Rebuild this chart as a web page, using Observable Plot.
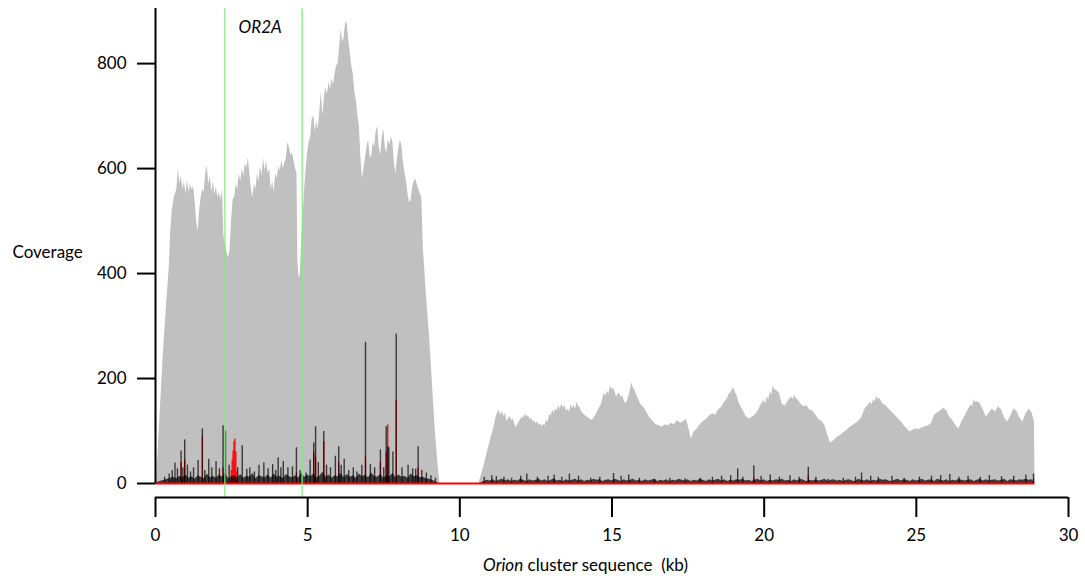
<!DOCTYPE html>
<html>
<head>
<meta charset="utf-8">
<script src="https://cdn.jsdelivr.net/npm/d3@7"></script>
<script src="https://cdn.jsdelivr.net/npm/@observablehq/plot@0.6"></script>
<style>
  body { margin: 0; background: #fff; }
  #chart svg { display: block; }
</style>
</head>
<body>
<div id="chart"></div>
<script>
// Total read coverage along the Orion cluster (kb, depth)
const coverageKb = [
  0.00, 0.03, 0.15, 0.25, 0.35, 0.45, 0.50, 0.55, 0.62, 0.70, 0.75, 0.80, 0.85, 0.90, 0.95, 1.00,
  1.05, 1.10, 1.15, 1.20, 1.25, 1.30, 1.35, 1.40, 1.45, 1.50, 1.55, 1.60, 1.65, 1.70, 1.75, 1.80,
  1.85, 1.90, 1.95, 2.00, 2.05, 2.10, 2.15, 2.20, 2.25, 2.30, 2.35, 2.40, 2.45, 2.50, 2.55, 2.60,
  2.65, 2.70, 2.75, 2.80, 2.85, 2.90, 2.95, 3.00, 3.05, 3.10, 3.15, 3.20, 3.25, 3.30, 3.35, 3.40,
  3.45, 3.50, 3.55, 3.60, 3.65, 3.70, 3.75, 3.80, 3.85, 3.90, 3.95, 4.00, 4.05, 4.10, 4.15, 4.20,
  4.25, 4.30, 4.35, 4.40, 4.45, 4.50, 4.55, 4.60, 4.65, 4.68, 4.72, 4.76, 4.80, 4.85, 4.90, 4.95,
  5.00, 5.05, 5.10, 5.15, 5.20, 5.25, 5.30, 5.35, 5.40, 5.45, 5.50, 5.55, 5.60, 5.65, 5.70, 5.75,
  5.80, 5.85, 5.90, 5.95, 6.00, 6.05, 6.10, 6.15, 6.20, 6.25, 6.30, 6.35, 6.40, 6.45, 6.50, 6.55,
  6.60, 6.65, 6.70, 6.75, 6.80, 6.85, 6.90, 6.95, 7.00, 7.05, 7.10, 7.15, 7.20, 7.25, 7.30, 7.35,
  7.40, 7.45, 7.50, 7.55, 7.60, 7.65, 7.70, 7.75, 7.80, 7.85, 7.90, 7.95, 8.00, 8.05, 8.10, 8.15,
  8.20, 8.25, 8.30, 8.35, 8.40, 8.45, 8.50, 8.55, 8.60, 8.65, 8.70, 8.75, 8.80, 8.90, 9.00, 9.10,
  9.20, 9.30, 9.35,
  10.63, 10.80, 10.95, 11.12, 11.20, 11.28, 11.35, 11.40, 11.45, 11.50, 11.55, 11.60, 11.65, 11.70,
  11.75, 11.80, 11.85, 11.90, 11.95, 12.00, 12.05, 12.10, 12.15, 12.20, 12.25, 12.30, 12.35, 12.40,
  12.45, 12.50, 12.55, 12.60, 12.65, 12.70, 12.75, 12.80, 12.85, 12.90, 12.95, 13.00, 13.05, 13.10,
  13.15, 13.20, 13.25, 13.30, 13.35, 13.40, 13.45, 13.50, 13.55, 13.60, 13.65, 13.70, 13.75, 13.80,
  13.85, 13.90, 13.95, 14.00, 14.05, 14.15, 14.25, 14.35, 14.45, 14.55, 14.65, 14.70, 14.75, 14.80,
  14.85, 14.90, 14.95, 15.00, 15.05, 15.10, 15.15, 15.20, 15.25, 15.30, 15.35, 15.40, 15.45, 15.50,
  15.55, 15.60, 15.65, 15.70, 15.75, 15.80, 15.85, 15.95, 16.05, 16.15, 16.25, 16.35, 16.45, 16.55,
  16.65, 16.75, 16.85, 16.95, 17.05, 17.15, 17.25, 17.35, 17.45, 17.55, 17.60, 17.70, 17.80, 17.90,
  18.00, 18.10, 18.20, 18.30, 18.40, 18.50, 18.60, 18.70, 18.80, 18.85, 18.90, 18.95, 19.00, 19.05,
  19.10, 19.20, 19.30, 19.40, 19.50, 19.60, 19.70, 19.80, 19.90, 20.00, 20.05, 20.10, 20.15, 20.20,
  20.25, 20.30, 20.35, 20.40, 20.50, 20.60, 20.70, 20.80, 20.90, 20.95, 21.00, 21.05, 21.10, 21.20,
  21.30, 21.40, 21.50, 21.60, 21.70, 21.80, 21.90, 22.00, 22.10, 22.18, 22.30, 22.40, 22.50, 22.60,
  22.70, 22.80, 22.90, 23.00, 23.10, 23.20, 23.30, 23.40, 23.50, 23.55, 23.60, 23.65, 23.70, 23.75,
  23.80, 23.90, 24.00, 24.10, 24.20, 24.30, 24.40, 24.50, 24.60, 24.70, 24.80, 24.90, 25.00, 25.10,
  25.20, 25.30, 25.40, 25.50, 25.60, 25.70, 25.80, 25.90, 26.00, 26.10, 26.20, 26.30, 26.40, 26.50,
  26.60, 26.70, 26.80, 26.85, 26.90, 26.95, 27.00, 27.10, 27.20, 27.30, 27.40, 27.50, 27.60, 27.70,
  27.80, 27.90, 28.00, 28.10, 28.20, 28.30, 28.40, 28.50, 28.60, 28.70, 28.80, 28.88, 28.90
];
const coverageDepth = [
  0, 0, 130, 240, 330, 410, 480, 520, 545, 560, 600, 570, 585, 560, 575, 550,
  578, 555, 570, 560, 565, 540, 500, 480, 520, 545, 560, 555, 590, 605, 570, 585,
  555, 575, 550, 565, 545, 555, 540, 560, 470, 455, 440, 430, 445, 500, 540, 545,
  570, 560, 590, 575, 600, 585, 610, 600, 620, 590, 560, 545, 570, 560, 590, 575,
  605, 585, 620, 595, 615, 590, 600, 560, 575, 555, 590, 580, 605, 595, 615, 600,
  610, 620, 650, 640, 625, 630, 615, 600, 590, 420, 390, 400, 460, 510, 560, 600,
  630, 650, 660, 695, 700, 670, 690, 675, 710, 745, 700, 735, 755, 740, 765, 750,
  770, 760, 780, 795, 800, 830, 865, 840, 850, 880, 875, 845, 820, 795, 780, 745,
  730, 700, 680, 620, 580, 600, 620, 640, 655, 625, 620, 650, 640, 670, 680, 640,
  625, 660, 675, 640, 630, 655, 645, 660, 650, 610, 590, 620, 640, 655, 640, 610,
  590, 575, 550, 535, 540, 565, 575, 580, 570, 560, 552, 545, 450, 360, 285, 190,
  95, 25, 0,
  0, 35, 70, 107, 128, 140, 130, 137, 128, 134, 118, 124, 128, 120,
  123, 114, 106, 112, 117, 121, 127, 124, 133, 126, 130, 122, 125, 117,
  120, 114, 118, 111, 114, 108, 113, 110, 121, 116, 133, 128, 140, 134,
  142, 138, 148, 141, 152, 144, 148, 138, 142, 136, 150, 143, 149, 141,
  155, 147, 145, 137, 133, 128, 124, 120, 128, 140, 150, 162, 172, 166,
  176, 170, 186, 178, 182, 174, 165, 170, 172, 164, 168, 158, 152, 156,
  165, 176, 192, 182, 178, 170, 163, 150, 145, 135, 125, 118, 112, 110,
  107, 112, 110, 115, 112, 120, 115, 118, 122, 100, 85, 98, 104, 112,
  118, 122, 128, 133, 130, 140, 145, 155, 162, 170, 172, 178, 182, 174,
  168, 150, 140, 128, 123, 126, 130, 138, 150, 158, 152, 165, 160, 175,
  168, 186, 178, 178, 172, 150, 148, 158, 165, 160, 168, 162, 160, 152,
  146, 148, 140, 138, 130, 122, 118, 110, 90, 77, 82, 88, 91, 96,
  100, 106, 110, 114, 118, 125, 140, 148, 155, 150, 160, 156, 166, 160,
  162, 152, 148, 142, 136, 130, 124, 118, 110, 104, 98, 102, 104, 103,
  106, 108, 110, 115, 130, 135, 138, 144, 138, 126, 120, 110, 104, 118,
  128, 140, 150, 146, 160, 154, 156, 152, 140, 126, 135, 142, 136, 146,
  140, 125, 117, 128, 142, 138, 125, 117, 132, 142, 135, 117, 0
];

// Low-level mismatch depth, sampled every 0.1 kb in the two covered stretches
const fuzzStepKb = 0.1;
const fuzzStartA = 0.0;
const fuzzDepthA = [
  0, 3, 5, 6, 8, 10, 12, 9, 14, 11,
  16, 10, 13, 8, 15, 12, 9, 18, 11, 14,
  10, 16, 12, 20, 9, 13, 15, 11, 17, 10,
  14, 12, 19, 9, 15, 13, 11, 16, 10, 18,
  12, 14, 9, 17, 13, 11, 15, 10, 20, 12,
  16, 13, 18, 11, 14, 22, 12, 16, 10, 15,
  13, 19, 11, 17, 12, 15, 10, 18, 13, 16,
  11, 20, 14, 12, 17, 10, 15, 13, 19, 11,
  16, 12, 14, 10, 18, 13, 15, 11, 12, 9,
  8, 6, 4, 0
];
const fuzzStartB = 10.7;
const fuzzDepthB = [
  2, 4, 6, 5, 7, 4, 6, 8, 5, 7,
  4, 6, 5, 8, 6, 4, 7, 5, 6, 8,
  5, 7, 4, 6, 9, 5, 6, 4, 7, 5,
  6, 8, 5, 7, 4, 6, 5, 8, 6, 7,
  4, 6, 7, 5, 8, 6, 4, 7, 5, 6,
  8, 5, 6, 4, 7, 5, 6, 8, 4, 6,
  5, 7, 4, 6, 5, 8, 6, 5, 7, 4,
  6, 5, 8, 6, 4, 7, 5, 6, 8, 5,
  7, 4, 6, 5, 7, 6, 8, 5, 6, 4,
  6, 8, 5, 7, 4, 6, 5, 7, 6, 8,
  5, 6, 4, 7, 5, 8, 6, 4, 6, 5,
  7, 5, 6, 8, 4, 6, 7, 5, 6, 4,
  6, 7, 5, 4, 8, 6, 5, 7, 4, 6,
  5, 8, 6, 7, 5, 4, 6, 8, 5, 7,
  6, 4, 7, 5, 6, 8, 5, 6, 7, 4,
  8, 6, 5, 7, 4, 6, 5, 8, 6, 5,
  6, 7, 4, 6, 8, 5, 7, 5, 6, 7,
  5, 6, 8, 4, 7, 6, 5, 7, 6, 8,
  6, 7, 0
];

// Taller mismatch peaks (black) and variant peaks (red)
const blackPeakKb = [
  0.30, 0.45, 0.55, 0.64, 0.72, 0.84, 0.90, 0.96, 1.05, 1.15, 1.25, 1.40, 1.54, 1.62, 1.75, 1.85,
  1.99, 2.10, 2.22, 2.30, 2.42, 2.70, 2.85, 3.00, 3.10, 3.25, 3.40, 3.56, 3.70, 3.85, 3.95, 4.03,
  4.12, 4.20, 4.35, 4.50, 4.63, 4.75, 4.95, 5.08, 5.20, 5.26, 5.35, 5.53, 5.62, 5.75, 5.91, 6.02,
  6.10, 6.20, 6.35, 6.50, 6.62, 6.78, 6.90, 7.06, 7.20, 7.39, 7.50, 7.58, 7.63, 7.67, 7.80, 7.91,
  8.10, 8.30, 8.45, 8.55, 8.63, 8.75, 8.90, 9.05, 9.20,
  10.80, 11.05, 11.20, 11.45, 11.70, 12.00, 12.20, 12.55, 12.90, 13.10, 13.35, 13.60, 13.90, 14.30,
  14.60, 15.05, 15.30, 15.55, 15.90, 16.40, 16.90, 17.40, 17.90, 18.30, 18.60, 18.90, 19.13, 19.30,
  19.66, 19.90, 20.20, 20.50, 20.85, 21.15, 21.45, 21.70, 22.10, 22.60, 23.00, 23.20, 23.50, 23.75,
  24.20, 24.60, 25.10, 25.50, 25.80, 26.10, 26.40, 26.70, 27.10, 27.40, 27.80, 28.20, 28.60, 28.85
];
const blackPeakDepth = [
  12, 18, 25, 39, 28, 62, 30, 83, 35, 22, 30, 44, 104, 25, 46, 30,
  42, 28, 110, 100, 35, 30, 72, 27, 30, 22, 35, 39, 28, 36, 25, 49,
  30, 42, 30, 32, 68, 25, 20, 45, 77, 108, 40, 99, 35, 30, 52, 70,
  35, 46, 25, 30, 22, 35, 269, 36, 30, 64, 30, 108, 70, 68, 60, 285,
  30, 35, 28, 27, 70, 25, 20, 15, 10,
  12, 15, 13, 12, 10, 14, 18, 12, 14, 16, 12, 18, 14, 10,
  12, 19, 14, 16, 10, 8, 10, 9, 10, 12, 14, 15, 28, 12,
  34, 14, 16, 12, 15, 12, 31, 12, 8, 10, 12, 20, 14, 12,
  14, 10, 12, 14, 15, 17, 12, 14, 12, 15, 13, 14, 16, 18
];
const redPeakKb = [
  0.84, 0.96, 1.54, 2.22, 2.49, 2.52, 2.55, 2.58, 2.61, 2.64, 2.67, 4.63, 5.20, 5.26, 5.53, 6.02,
  6.90, 7.39, 7.58, 7.63, 7.91, 8.63, 19.66, 21.45, 28.85
];
const redPeakDepth = [
  40, 45, 90, 30, 25, 45, 62, 80, 85, 60, 22, 20, 60, 50, 80, 40,
  50, 40, 60, 112, 158, 30, 10, 15, 8
];

// Gene boundaries and axis ticks
const geneName = "OR2A";
const geneBoundsKb = [2.28, 4.82];
const geneLabelKb = 3.44;
const xTicks = [0, 5, 10, 15, 20, 25, 30];
const yTicks = [0, 200, 400, 600, 800];
const yLabel = "Coverage";
const xLabelItalic = "Orion";
const xLabelRest = " cluster sequence  (kb)";

const coverage = coverageKb.map((kb, i) => ({kb, depth: coverageDepth[i]}));
const fuzz = [
  ...fuzzDepthA.map((depth, i) => ({kb: fuzzStartA + i * fuzzStepKb, depth, part: "a"})),
  ...fuzzDepthB.map((depth, i) => ({kb: fuzzStartB + i * fuzzStepKb, depth, part: "b"}))
];
const blackPeaks = blackPeakKb.map((kb, i) => ({kb, depth: blackPeakDepth[i]}));
const redPeaks = redPeakKb.map((kb, i) => ({kb, depth: redPeakDepth[i]}));
const coveredEnd = coverageKb[coverageKb.length - 1];

const plot = Plot.plot({
  width: 1085,
  height: 578,
  marginTop: 8,
  marginBottom: 95,
  marginLeft: 155,
  marginRight: 17,
  x: {domain: [0, 30], axis: null},
  y: {domain: [0, 905]},
  style: {fontFamily: "Lato, 'Open Sans', sans-serif", fontSize: "17px", background: "#fff", color: "#000"},
  marks: [
    Plot.areaY(coverage, {x: "kb", y: "depth", fill: "#c0c0c0"}),
    Plot.ruleX(redPeaks, {x: "kb", y1: 0, y2: "depth", stroke: "#ff0000", strokeWidth: 1.3}),
    Plot.areaY(fuzz, {x: "kb", y: "depth", z: "part", fill: "#000", fillOpacity: 0.7}),
    Plot.ruleX(blackPeaks, {x: "kb", y1: 0, y2: "depth", stroke: "#000", strokeOpacity: 0.7, strokeWidth: 1.4}),
    Plot.ruleY([0], {x1: 0, x2: coveredEnd, stroke: "#ff0000", strokeWidth: 2}),
    Plot.ruleX(geneBoundsKb, {stroke: "#7ded7d", strokeWidth: 1.2, insetBottom: -14}),
    // y axis
    Plot.ruleX([0], {y1: 0, y2: 905, stroke: "#000", strokeWidth: 2}),
    Plot.axisY({ticks: yTicks, tickSize: 18, tickPadding: 11, strokeWidth: 2, fontSize: 17, label: null}),
    // x axis, set slightly below the plot
    Plot.ruleY([0], {dy: 14, stroke: "#000", strokeWidth: 2}),
    Plot.ruleX(xTicks, {stroke: "#000", strokeWidth: 2, insetTop: 489, insetBottom: -34}),
    Plot.text(xTicks, {x: (d) => d, text: (d) => String(d), frameAnchor: "bottom", dy: 52, lineAnchor: "middle", fontSize: 17}),
    // labels
    Plot.text([geneName], {x: geneLabelKb, frameAnchor: "top", dy: 19, lineAnchor: "middle", fontStyle: "italic", fontSize: 17}),
    Plot.text([yLabel], {frameAnchor: "left", y: 440, dx: -143, textAnchor: "start", fontSize: 17}),
    Plot.text([xLabelItalic + xLabelRest], {x: 14.13, frameAnchor: "bottom", dy: 82, lineAnchor: "middle", fontSize: 17})
  ]
});

// Italicise the organism name inside the x-axis title
d3.select(plot).selectAll("text")
  .filter(function () { return this.textContent === xLabelItalic + xLabelRest; })
  .each(function () {
    const t = d3.select(this);
    t.text(null);
    t.append("tspan").attr("font-style", "italic").text(xLabelItalic);
    t.append("tspan").attr("xml:space", "preserve").style("white-space", "pre").text(xLabelRest);
  });

document.getElementById("chart").append(plot);
</script>
</body>
</html>
